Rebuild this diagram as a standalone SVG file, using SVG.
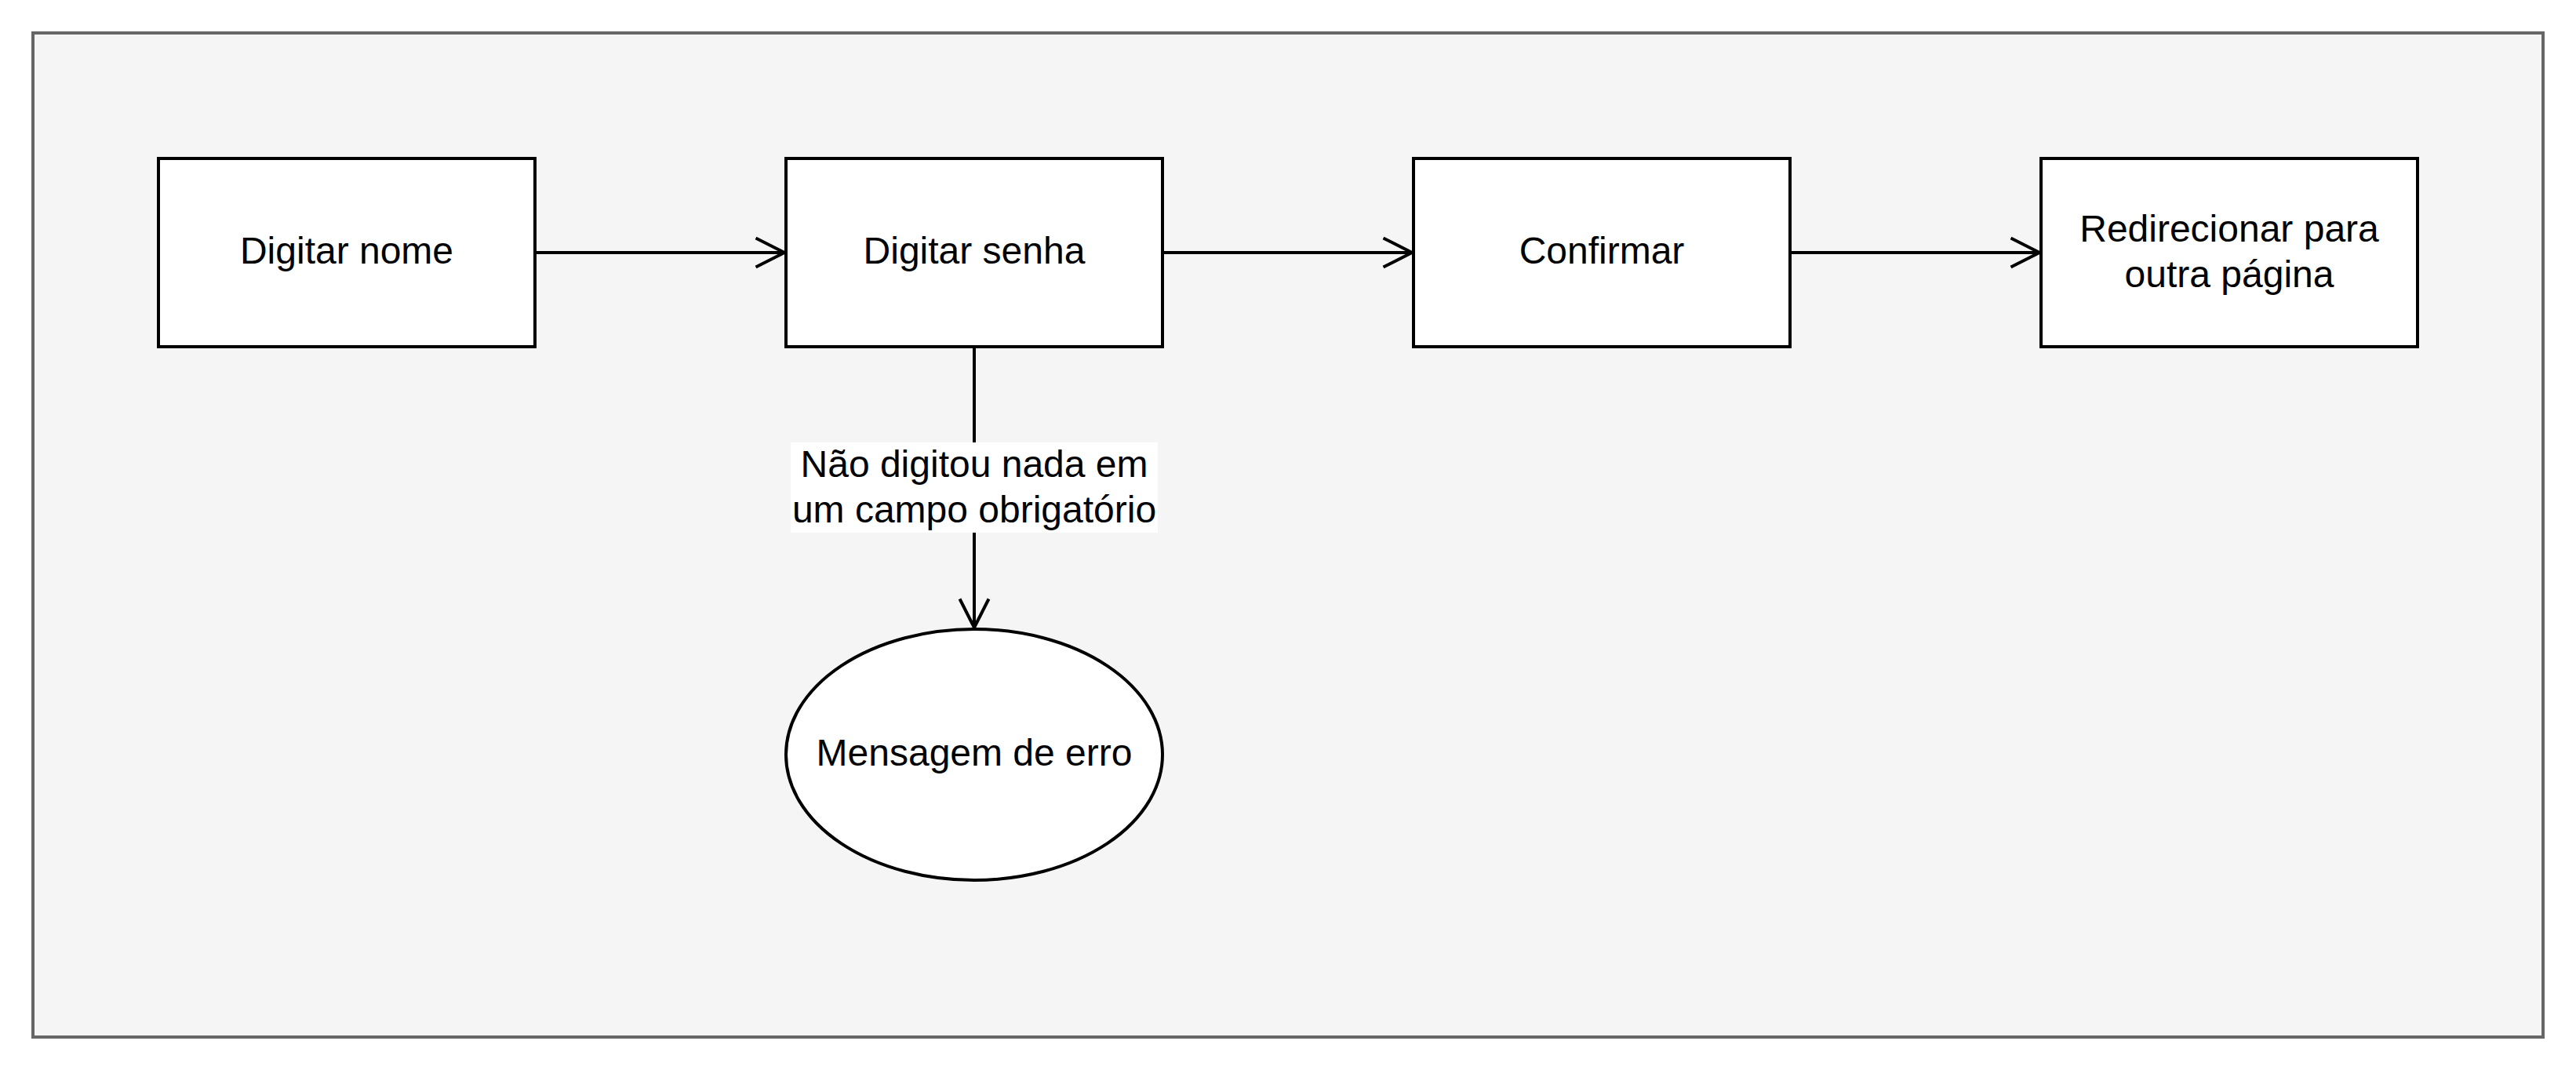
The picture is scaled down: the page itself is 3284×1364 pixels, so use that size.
<svg xmlns="http://www.w3.org/2000/svg" width="3284" height="1364" viewBox="0 0 3284 1364">
<defs>
<style>
.box{fill:#ffffff;stroke:#000000;stroke-width:4}
.lbl{font-family:"Liberation Sans",Arial,Helvetica,sans-serif;font-size:48px;fill:#000000;text-anchor:middle}
.edge{fill:none;stroke:#000000;stroke-width:4}
</style>
<marker id="open" viewBox="0 0 12 12" refX="10.5" refY="6" markerWidth="12" markerHeight="12" markerUnits="userSpaceOnUse" orient="auto" overflow="visible">
<path d="M-26 -12.5 L10.5 6 L-26 24.5" fill="none" stroke="#000000" stroke-width="4"/>
</marker>
</defs>
<rect width="3284" height="1364" fill="#ffffff"/>
<g id="container">
<rect x="42" y="42" width="3200" height="1280" fill="#f5f5f5" stroke="#666666" stroke-width="4"/>
</g>
<g id="connectors">
<line class="edge" x1="682" y1="322" x2="1000" y2="322" marker-end="url(#open)"/>
<line class="edge" x1="1482" y1="322" x2="1800" y2="322" marker-end="url(#open)"/>
<line class="edge" x1="2282" y1="322" x2="2600" y2="322" marker-end="url(#open)"/>
<line class="edge" x1="1242" y1="442" x2="1242" y2="800" marker-end="url(#open)"/>
<g id="edge-label">
<rect x="1008" y="564" width="468" height="115" fill="#ffffff"/>
<text class="lbl" x="1242" y="608">Não digitou nada em</text>
<text class="lbl" x="1242" y="666">um campo obrigatório</text>
</g>
</g>
<g id="node-digitar-nome">
<rect class="box" x="202" y="202" width="480" height="240"/>
<text class="lbl" x="442" y="336">Digitar nome</text>
</g>
<g id="node-digitar-senha">
<rect class="box" x="1002" y="202" width="480" height="240"/>
<text class="lbl" x="1242" y="336">Digitar senha</text>
</g>
<g id="node-confirmar">
<rect class="box" x="1802" y="202" width="480" height="240"/>
<text class="lbl" x="2042" y="336">Confirmar</text>
</g>
<g id="node-redirecionar">
<rect class="box" x="2602" y="202" width="480" height="240"/>
<text class="lbl" x="2842" y="308">Redirecionar para</text>
<text class="lbl" x="2842" y="366">outra página</text>
</g>
<g id="node-mensagem">
<ellipse class="box" cx="1242" cy="962" rx="240" ry="160"/>
<text class="lbl" x="1242" y="976">Mensagem de erro</text>
</g>
</svg>
